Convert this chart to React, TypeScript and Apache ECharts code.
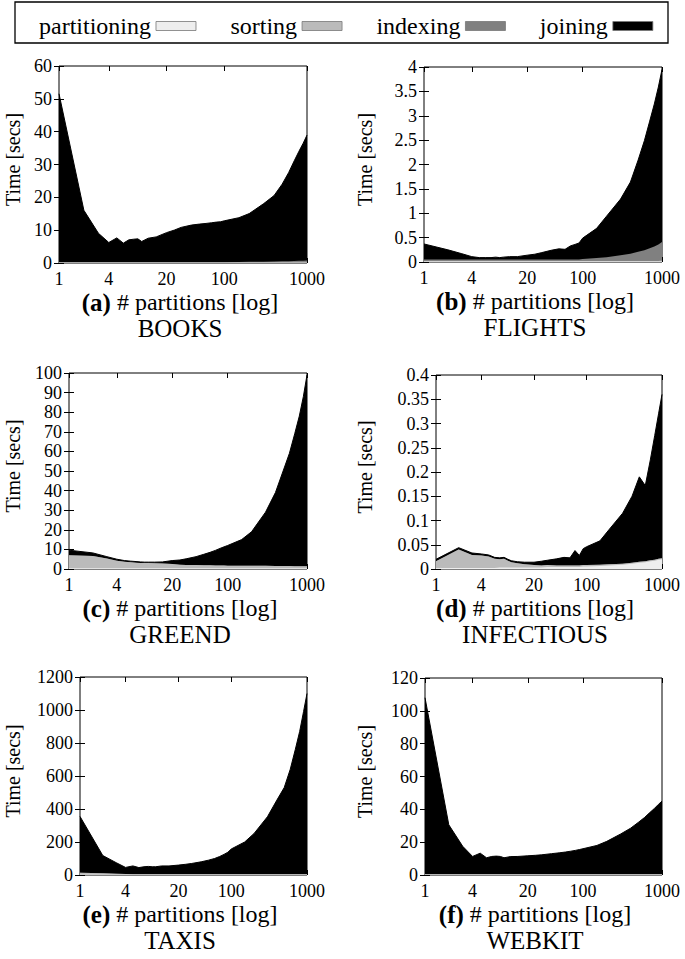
import React, { useEffect, useRef } from "react";
import * as echarts from "echarts";

// ---------- data ----------
const PARTITIONS = [1, 2, 3, 4, 5, 6, 7, 8, 9, 10, 12, 15, 20, 25, 30, 40, 50, 60, 70, 80, 90, 100, 150, 200, 300, 400, 500, 600, 700, 800, 900, 1000];
const X_TICKS = [1, 4, 20, 100, 1000];
const SERIES_NAMES = ["partitioning", "sorting", "indexing", "joining"];

const booksPartitioning = [0.05, 0.05, 0.05, 0.05, 0.05, 0.05, 0.05, 0.05, 0.05, 0.05, 0.05, 0.05, 0.05, 0.05, 0.05, 0.05, 0.05, 0.05, 0.05, 0.05, 0.05, 0.05, 0.05, 0.05, 0.05, 0.05, 0.05, 0.05, 0.05, 0.05, 0.05, 0.05];
const booksSorting = [0.1, 0.1, 0.1, 0.1, 0.1, 0.1, 0.1, 0.1, 0.1, 0.1, 0.1, 0.1, 0.1, 0.1, 0.1, 0.1, 0.1, 0.1, 0.1, 0.1, 0.1, 0.1, 0.1, 0.1, 0.1, 0.1, 0.1, 0.1, 0.1, 0.1, 0.1, 0.1];
const booksIndexing = [0.1, 0.1, 0.1, 0.1, 0.1, 0.1, 0.1, 0.1, 0.1, 0.1, 0.1, 0.1, 0.1, 0.1, 0.1, 0.1, 0.1, 0.1, 0.1, 0.1, 0.1, 0.1, 0.15, 0.2, 0.25, 0.3, 0.35, 0.4, 0.45, 0.5, 0.55, 0.6];
const booksJoining = [51.3, 15.8, 8.8, 6, 7.4, 5.8, 6.8, 7, 7.1, 6.3, 7.3, 7.7, 9, 9.8, 10.6, 11.3, 11.6, 11.8, 12, 12.2, 12.3, 12.6, 13.5, 14.7, 17.7, 20.1, 23.5, 27, 30.5, 33.4, 35.8, 38.2];

const flightsPartitioning = [0.01, 0.01, 0.01, 0.01, 0.01, 0.01, 0.01, 0.01, 0.01, 0.01, 0.01, 0.01, 0.01, 0.01, 0.01, 0.01, 0.01, 0.01, 0.01, 0.01, 0.01, 0.01, 0.01, 0.01, 0.01, 0.01, 0.01, 0.01, 0.01, 0.01, 0.01, 0.01];
const flightsSorting = [0.01, 0.01, 0.01, 0.01, 0.01, 0.01, 0.01, 0.01, 0.01, 0.01, 0.01, 0.01, 0.01, 0.01, 0.01, 0.01, 0.01, 0.01, 0.01, 0.01, 0.01, 0.01, 0.01, 0.01, 0.01, 0.01, 0.01, 0.01, 0.01, 0.01, 0.01, 0.02];
const flightsIndexing = [0.03, 0.03, 0.03, 0.03, 0.03, 0.03, 0.03, 0.03, 0.03, 0.03, 0.03, 0.03, 0.03, 0.03, 0.03, 0.03, 0.03, 0.03, 0.03, 0.03, 0.03, 0.04, 0.06, 0.08, 0.12, 0.15, 0.19, 0.22, 0.26, 0.3, 0.34, 0.38];
const flightsJoining = [0.32, 0.2, 0.12, 0.06, 0.04, 0.04, 0.04, 0.05, 0.04, 0.05, 0.06, 0.06, 0.09, 0.11, 0.14, 0.19, 0.22, 0.21, 0.28, 0.31, 0.34, 0.43, 0.61, 0.84, 1.15, 1.47, 1.88, 2.25, 2.61, 2.92, 3.23, 3.54];

const greendPartitioning = [0.4, 0.4, 0.4, 0.4, 0.4, 0.4, 0.4, 0.4, 0.4, 0.4, 0.4, 0.4, 0.4, 0.4, 0.4, 0.4, 0.4, 0.4, 0.4, 0.4, 0.4, 0.4, 0.4, 0.4, 0.4, 0.4, 0.4, 0.4, 0.4, 0.4, 0.4, 0.4];
const greendSorting = [6.6, 6.2, 5, 3.8, 3.3, 3, 2.8, 2.7, 2.6, 2.6, 2.5, 2.4, 2.2, 1.8, 1.7, 1.6, 1.5, 1.5, 1.4, 1.4, 1.4, 1.3, 1.3, 1.2, 1.2, 1.1, 1.1, 1.1, 1, 1, 1, 1];
const greendIndexing = [0, 0, 0, 0, 0, 0, 0, 0, 0, 0, 0, 0, 0, 0, 0, 0, 0, 0, 0, 0, 0, 0, 0, 0, 0, 0, 0, 0, 0, 0, 0, 0];
const greendJoining = [2.6, 1.6, 0.9, 0.8, 0.6, 0.6, 0.6, 0.5, 0.5, 0.5, 0.6, 0.8, 1.7, 2.4, 3.1, 4.3, 5.6, 6.6, 7.7, 8.7, 9.5, 10.3, 13.3, 17.4, 27.4, 37.5, 48.5, 57.5, 67.6, 76.6, 86.6, 97.6];

const infectiousPartitioning = [0.002, 0.002, 0.002, 0.002, 0.002, 0.002, 0.003, 0.003, 0.003, 0.003, 0.003, 0.003, 0.003, 0.003, 0.004, 0.004, 0.004, 0.004, 0.004, 0.004, 0.005, 0.005, 0.006, 0.007, 0.009, 0.011, 0.013, 0.014, 0.016, 0.017, 0.019, 0.02];
const infectiousSorting = [0.014, 0.038, 0.027, 0.026, 0.024, 0.019, 0.017, 0.018, 0.014, 0.011, 0.009, 0.007, 0.005, 0.004, 0.004, 0.003, 0.003, 0.003, 0.003, 0.003, 0.003, 0.003, 0.003, 0.003, 0.002, 0.002, 0.002, 0.002, 0.002, 0.002, 0.002, 0.002];
const infectiousIndexing = [0, 0, 0, 0, 0, 0, 0, 0, 0, 0, 0, 0, 0, 0, 0, 0, 0, 0, 0, 0, 0, 0, 0, 0, 0, 0, 0, 0, 0, 0, 0, 0];
const infectiousJoining = [0.004, 0.004, 0.004, 0.003, 0.003, 0.003, 0.003, 0.003, 0.003, 0.003, 0.003, 0.004, 0.006, 0.009, 0.01, 0.014, 0.017, 0.016, 0.031, 0.021, 0.034, 0.038, 0.049, 0.072, 0.104, 0.137, 0.175, 0.156, 0.207, 0.256, 0.299, 0.338];

const taxisPartitioning = [2, 2, 2, 2, 2, 2, 2, 2, 2, 2, 2, 2, 2, 2, 2, 2, 2, 2, 2, 2, 2, 2, 2, 2, 2, 2, 2, 2, 2, 2, 2, 2];
const taxisSorting = [12, 9, 6, 4, 3, 3, 3, 2, 2, 2, 2, 2, 2, 2, 2, 2, 2, 2, 2, 2, 2, 2, 2, 2, 2, 2, 2, 2, 2, 2, 2, 2];
const taxisIndexing = [0, 0, 0, 0, 0, 0, 0, 0, 0, 0, 0, 0, 0, 0, 0, 0, 0, 0, 0, 0, 0, 0, 0, 0, 0, 0, 0, 0, 0, 0, 0, 0];
const taxisJoining = [341, 107, 67, 40, 50, 40, 45, 48, 46, 46, 51, 51, 56, 61, 66, 76, 86, 96, 108, 121, 134, 154, 196, 248, 349, 450, 526, 636, 756, 866, 986, 1096];

const webkitPartitioning = [0.2, 0.2, 0.2, 0.2, 0.2, 0.2, 0.2, 0.2, 0.2, 0.2, 0.2, 0.2, 0.2, 0.2, 0.2, 0.2, 0.2, 0.2, 0.2, 0.2, 0.2, 0.2, 0.2, 0.2, 0.2, 0.2, 0.2, 0.2, 0.2, 0.2, 0.2, 0.2];
const webkitSorting = [0.2, 0.2, 0.2, 0.2, 0.2, 0.2, 0.2, 0.2, 0.2, 0.2, 0.2, 0.2, 0.2, 0.2, 0.2, 0.2, 0.2, 0.2, 0.2, 0.2, 0.2, 0.2, 0.2, 0.2, 0.2, 0.2, 0.2, 0.2, 0.2, 0.2, 0.2, 0.2];
const webkitIndexing = [0, 0, 0, 0, 0, 0, 0, 0, 0, 0, 0, 0, 0, 0, 0, 0, 0, 0, 0, 0, 0, 0, 0, 0, 0, 0, 0, 0, 0, 0, 0, 0];
const webkitJoining = [107.6, 30.2, 17.1, 10.9, 12.9, 10.1, 10.9, 11.1, 10.9, 10.1, 10.8, 10.9, 11.3, 11.6, 11.9, 12.6, 13.1, 13.6, 14.1, 14.6, 15.1, 15.6, 17.6, 20.1, 24.6, 28.1, 31.6, 34.6, 37.6, 40.1, 42.6, 44.6];

const PANEL_LETTERS = ["a", "b", "c", "d", "e", "f"];
const PANEL_TITLES = ["BOOKS", "FLIGHTS", "GREEND", "INFECTIOUS", "TAXIS", "WEBKIT"];
const Y_MAX = [60, 4, 100, 0.4, 1200, 120];
const Y_STEP = [10, 0.5, 10, 0.05, 200, 20];
const PANEL_VALUES = [
  [booksPartitioning, booksSorting, booksIndexing, booksJoining],
  [flightsPartitioning, flightsSorting, flightsIndexing, flightsJoining],
  [greendPartitioning, greendSorting, greendIndexing, greendJoining],
  [infectiousPartitioning, infectiousSorting, infectiousIndexing, infectiousJoining],
  [taxisPartitioning, taxisSorting, taxisIndexing, taxisJoining],
  [webkitPartitioning, webkitSorting, webkitIndexing, webkitJoining],
];

// ---------- layout / style ----------
const SERIES_COLORS = ["#eeeeee", "#bbbbbb", "#808080", "#000000"];
const FONT = "'Liberation Serif', 'Times New Roman', serif";
const LAYOUT = [
  { left: 59, top: 66, width: 248, height: 197, nameX: 13, capX: 180 },
  { left: 424, top: 67, width: 238, height: 195, nameX: 365, capX: 535 },
  { left: 69, top: 373, width: 238, height: 196, nameX: 13, capX: 180 },
  { left: 436, top: 375, width: 226, height: 194, nameX: 365, capX: 535 },
  { left: 80, top: 677, width: 227, height: 198, nameX: 13, capX: 180 },
  { left: 425, top: 678, width: 237, height: 197, nameX: 365, capX: 535 },
];

const fmtNum = (v: number) => String(parseFloat(Number(v).toFixed(4)));

function buildOption() {
  const grid: any[] = [];
  const xAxis: any[] = [];
  const yAxis: any[] = [];
  const series: any[] = [];
  const graphic: any[] = [];
  const tickPos = X_TICKS.map((v) => Math.log10(v));

  graphic.push({
    type: "rect",
    shape: { x: 15, y: 2, width: 653, height: 41 },
    style: { fill: "none", stroke: "#000", lineWidth: 1.3 },
  });

  LAYOUT.forEach((L, i) => {
    grid.push({
      left: L.left, top: L.top, width: L.width, height: L.height,
      show: true, borderColor: "#000", borderWidth: 1, backgroundColor: "transparent",
    });
    // data axis (log scale)
    xAxis.push({
      type: "log", logBase: 10, min: 1, max: 1000, gridIndex: i, position: "bottom",
      axisLine: { show: false }, axisTick: { show: false }, axisLabel: { show: false },
      splitLine: { show: false }, minorTick: { show: false }, minorSplitLine: { show: false },
    });
    // tick-label axis, bottom (positions = log10 of 1, 4, 20, 100, 1000)
    xAxis.push({
      type: "value", min: 0, max: 3, gridIndex: i, position: "bottom",
      axisLine: { show: false }, splitLine: { show: false },
      axisTick: { show: true, inside: true, length: 5, customValues: tickPos, lineStyle: { color: "#000" } },
      axisLabel: {
        customValues: tickPos, margin: 7, color: "#000", fontFamily: FONT, fontSize: 18,
        formatter: (v: number) => String(Math.round(Math.pow(10, v))),
      },
    });
    // mirror ticks, top
    xAxis.push({
      type: "value", min: 0, max: 3, gridIndex: i, position: "top",
      axisLine: { show: false }, splitLine: { show: false },
      axisTick: { show: true, inside: true, length: 5, customValues: tickPos, lineStyle: { color: "#000" } },
      axisLabel: { show: false },
    });
    yAxis.push({
      type: "value", min: 0, max: Y_MAX[i], interval: Y_STEP[i], gridIndex: i, position: "left",
      axisLine: { show: false }, splitLine: { show: false },
      axisTick: { show: true, inside: true, length: 5, lineStyle: { color: "#000" } },
      axisLabel: { margin: 7, color: "#000", fontFamily: FONT, fontSize: 18, formatter: fmtNum },
    });
    yAxis.push({
      type: "value", min: 0, max: Y_MAX[i], interval: Y_STEP[i], gridIndex: i, position: "right",
      axisLine: { show: false }, splitLine: { show: false },
      axisTick: { show: true, inside: true, length: 5, lineStyle: { color: "#000" } },
      axisLabel: { show: false },
    });

    // stacked layers: cumulative tops, drawn from the topmost layer down
    const vals = PANEL_VALUES[i];
    const cumulative = SERIES_NAMES.map((_, k) =>
      PARTITIONS.map((_p, j) => {
        let s = 0;
        for (let m = 0; m <= k; m++) s += vals[m][j];
        return s;
      })
    );
    for (let k = SERIES_NAMES.length - 1; k >= 0; k--) {
      series.push({
        type: "line", name: SERIES_NAMES[k], xAxisIndex: i * 3, yAxisIndex: i * 2,
        data: PARTITIONS.map((p, j) => [p, cumulative[k][j]]),
        symbol: "none", showSymbol: false, silent: true,
        lineStyle: { width: k === 3 ? 1 : 0, color: SERIES_COLORS[k] },
        itemStyle: { color: SERIES_COLORS[k] },
        areaStyle: { color: SERIES_COLORS[k], opacity: 1, origin: "start" },
        z: 2,
      });
    }

    const midY = L.top + L.height / 2 - 5;
    graphic.push({
      type: "text", x: L.nameX, y: midY, rotation: Math.PI / 2,
      style: { text: "Time [secs]", fontFamily: FONT, fontSize: 20, fill: "#000", align: "center", verticalAlign: "middle" },
    });
    const bottom = L.top + L.height;
    graphic.push({
      type: "text", x: L.capX, y: bottom + 39,
      style: {
        text: "{b|(" + PANEL_LETTERS[i] + ")}{n| # partitions [log]}",
        align: "center", verticalAlign: "middle",
        rich: {
          b: { fontFamily: FONT, fontSize: 25, fontWeight: "bold", fill: "#000" },
          n: { fontFamily: FONT, fontSize: 24, fill: "#000" },
        },
      },
    });
    graphic.push({
      type: "text", x: L.capX, y: bottom + 65,
      style: { text: PANEL_TITLES[i], fontFamily: FONT, fontSize: 25, fill: "#000", align: "center", verticalAlign: "middle" },
    });
  });

  return {
    animation: false,
    backgroundColor: "#fff",
    legend: {
      data: SERIES_NAMES, left: 34, top: 9, align: "right", icon: "rect",
      itemWidth: 40, itemHeight: 9, itemGap: 34, selectedMode: false,
      textStyle: { fontFamily: FONT, fontSize: 24, color: "#000" },
      itemStyle: { borderColor: "#777", borderWidth: 0.8 },
    },
    grid, xAxis, yAxis, series, graphic,
  };
}

export default function App() {
  const ref = useRef<HTMLDivElement>(null);
  useEffect(() => {
    if (!ref.current) return;
    const chart = echarts.init(ref.current, undefined, { renderer: "svg" });
    chart.setOption(buildOption() as any);
    return () => chart.dispose();
  }, []);
  return (
    <div
      ref={ref}
      style={{ position: "fixed", left: 0, top: 0, width: 685, height: 959, background: "#fff" }}
    />
  );
}
